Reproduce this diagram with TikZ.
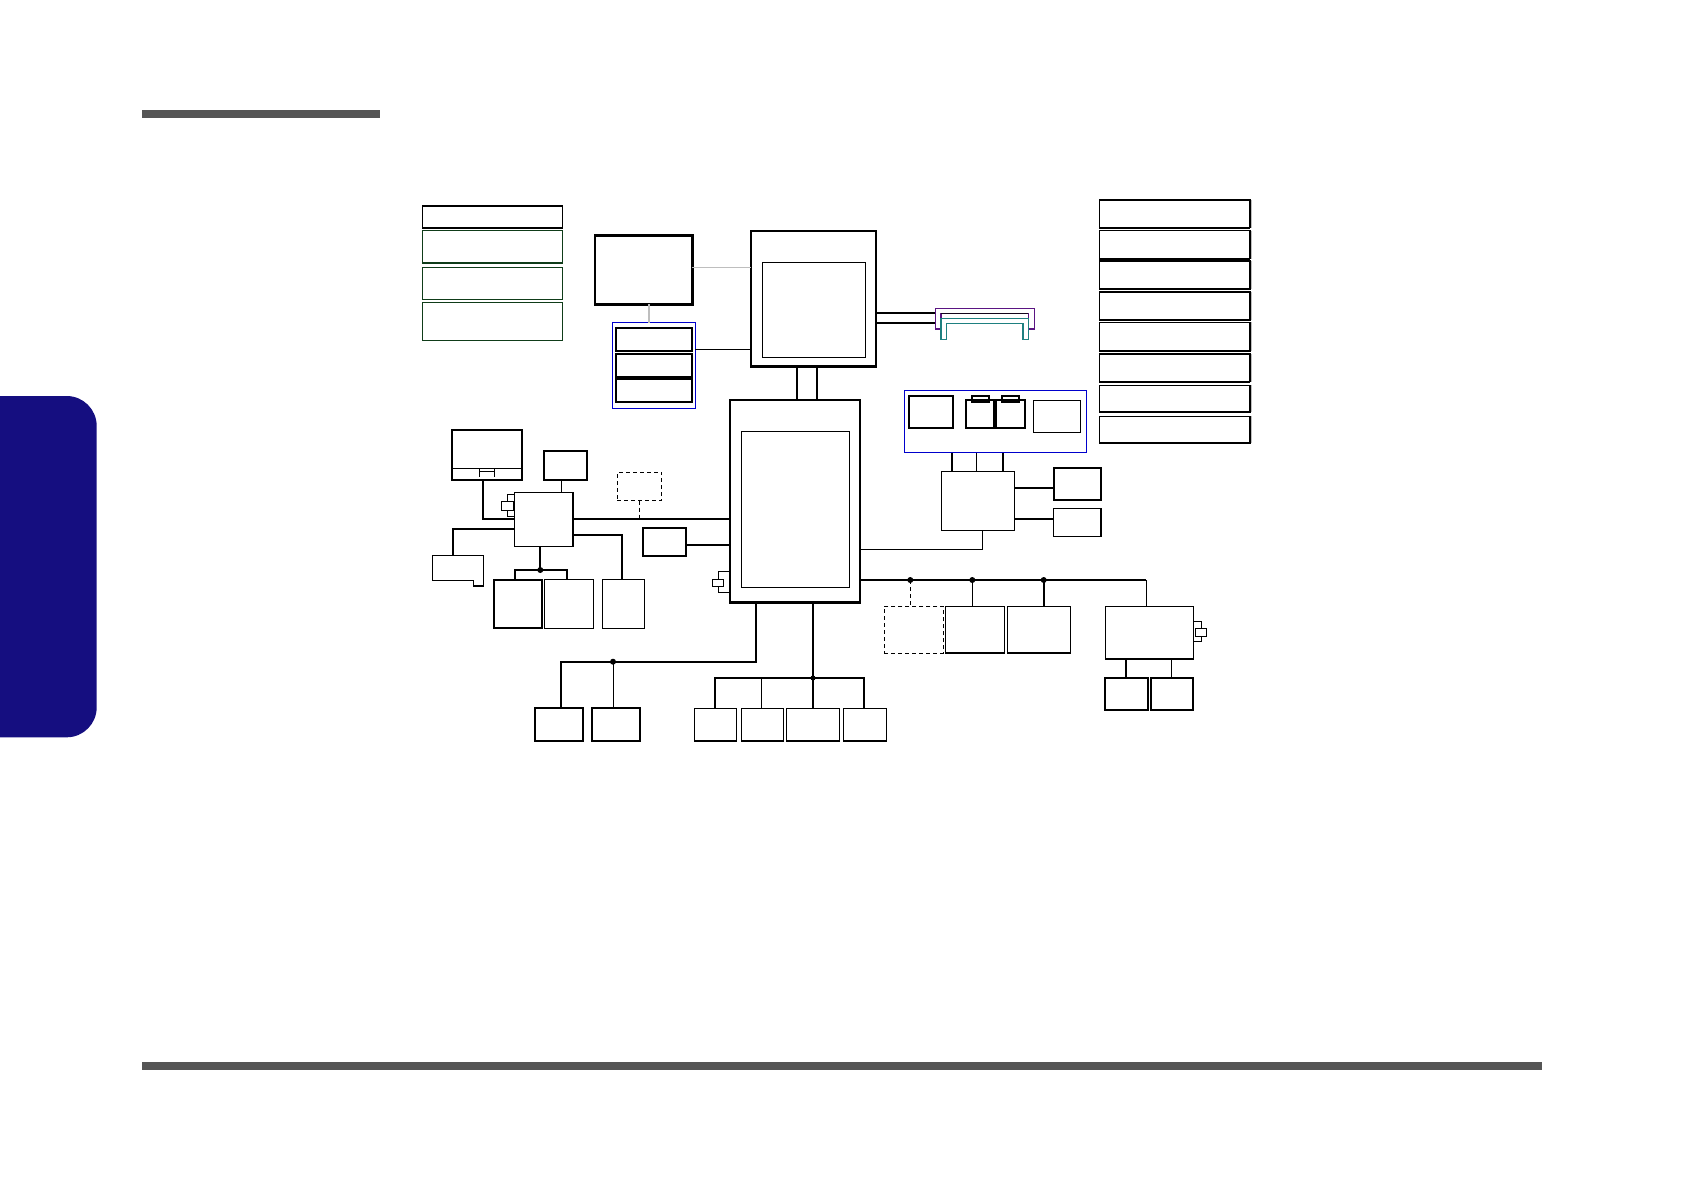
\documentclass[tikz,border=0pt]{standalone}
\usepackage{tikz}
\definecolor{tabblue}{RGB}{21,14,128}
\definecolor{bargray}{RGB}{85,85,85}
\definecolor{frameblue}{RGB}{0,0,204}
\definecolor{legendgreen}{RGB}{15,60,25}
\definecolor{brpurple}{RGB}{90,20,130}
\definecolor{brteal}{RGB}{30,128,128}
\definecolor{lgray}{RGB}{190,190,190}
\newcommand\mkbox[6][]{\node[draw, inner sep=0pt, outer sep=0pt, anchor=north west,
  minimum width={(#5-#3)*1pt}, minimum height={(#6-#4)*1pt}, #1] (#2) at (#3,#4) {};}
\tikzset{
  thin1/.style={line width=1pt},
  med/.style={line width=1.5pt},
  thk/.style={line width=2pt},
  heavy/.style={line width=2.7pt},
  blueframe/.style={draw=frameblue, line width=1.5pt},
  legbox/.style={draw=legendgreen, line width=1.2pt},
  dashbox/.style={dashed, line width=1pt, dash pattern=on 4pt off 3pt},
}
\begin{document}
\begin{tikzpicture}[x=1pt,y=-1pt]
\useasboundingbox (0,0) rectangle (1684,1192);
% page decorations
\fill[bargray] (142,110) rectangle (380,117.7);
\fill[bargray] (142,1062) rectangle (1542,1070);
\fill[tabblue, rounded corners=30pt] (-40,396) rectangle (96.7,737.3);

% left legend boxes
\mkbox[line width=1.2pt]{lb1}{422.3}{206}{562.7}{227.7}
\mkbox[legbox]{lb2}{422.3}{230.7}{562.7}{263}
\mkbox[legbox]{lb3}{422.3}{267.3}{562.7}{299.3}
\mkbox[legbox]{lb4}{422.3}{302.7}{562.7}{340.7}
\draw[line width=2pt] (lb1.south west) -- (lb1.south east);
\draw[legendgreen,line width=2pt] (lb2.south west) -- (lb2.south east);

% right legend boxes
\foreach \n/\a/\b in {1/200/227.7, 2/230.7/258.7, 3/261/289.3, 4/292/320,
                      5/322.3/351, 6/354/381.7, 7/385.3/412, 8/416.3/443.3}{
  \mkbox[line width=1.2pt]{rb\n}{1099.3}{\a}{1250}{\b}
  \draw[line width=2.2pt] (rb\n.south west) -- (rb\n.south east);
  \draw[lgray, line width=1pt] ([xshift=1.5pt]rb\n.north east) -- ([xshift=1.5pt]rb\n.south east);
}

% memory, CPU, blue slot group
\mkbox[heavy]{mem}{595}{235.7}{692.3}{304.3}
\mkbox[blueframe]{slotgrp}{612.3}{322.7}{695.3}{408.3}
\mkbox[thk]{slot1}{616}{328.3}{692}{351.3}
\mkbox[thk]{slot2}{616}{354}{692}{376.7}
\mkbox[thk]{slot3}{616}{379.3}{692}{402}
\mkbox[heavy]{cpu}{751}{231}{876}{366.7}
\mkbox[thin1]{cpuin}{762.3}{262.3}{865.7}{357.3}
\draw[lgray, line width=1.3pt] (mem.east |- 0,267.3) -- (cpu.west |- 0,267.3);
\draw[lgray, line width=2pt] (mem.south -| 649,0) -- (slotgrp.north -| 649,0);
\draw[thin1] (slotgrp.east |- 0,349.3) -- (cpu.west |- 0,349.3);

% brackets (display connector)
\coordinate (brk) at (935.7,308.7);
\draw[thk] (cpu.east |- 0,312.7) -- (brk |- 0,312.7);
\draw[thk] (cpu.east |- 0,322.7) -- (brk |- 0,322.7);
\draw[brpurple, line width=1.3pt] (935.7,308.7) -- (1034.3,308.7) -- (1034.3,329) -- (1028.3,329)
  -- (1028.3,313.3) -- (941,313.3) -- (941,329) -- (935.7,329) -- cycle;
\draw[line width=1.5pt, black!80!brpurple] (941,313.3) -- (1028.3,313.3);
\draw[brteal, line width=1.3pt] (941,318.3) -- (1028.3,318.3) -- (1028.3,339.3) -- (1023,339.3)
  -- (1023,323.3) -- (946.3,323.3) -- (946.3,339.3) -- (941,339.3) -- cycle;

% PCH
\mkbox[heavy]{pch}{730}{400}{860}{602.3}
\mkbox[thin1]{pchin}{741.3}{431.3}{849.3}{587.3}
\draw[thk] (cpu.south -| 797.3,0) -- (pch.north -| 797.3,0);
\draw[thk] (cpu.south -| 817.3,0) -- (pch.north -| 817.3,0);

% right upper group
\mkbox[blueframe]{cardgrp}{904.7}{390.7}{1086.7}{452.7}
\mkbox[thk]{cr1}{909.3}{395.7}{953.3}{428.3}
\mkbox[thk]{cr2}{966.3}{400.3}{994}{428.3}
\mkbox[thk]{cr2t}{972.3}{395.7}{988.7}{402.3}
\mkbox[thk]{cr3}{996.3}{400.3}{1025.3}{428.3}
\mkbox[thk]{cr3t}{1002.3}{395.7}{1019.3}{402.3}
\mkbox[med]{cr4}{1033.7}{400.3}{1080.7}{432.3}
\mkbox[thin1]{hub}{941.3}{471.7}{1014.3}{530.3}
\draw[thk] (cardgrp.south -| 952,0) -- (hub.north -| 952,0);
\draw[thin1] (cardgrp.south -| 976.3,0) -- (hub.north -| 976.3,0);
\draw[thk] (cardgrp.south -| 1003,0) -- (hub.north -| 1003,0);
\mkbox[thk]{hi}{1053.7}{467.7}{1101}{500.3}
\mkbox[med]{hj}{1053.7}{508.7}{1101}{536.7}
\draw[thk] (hub.east |- 0,487.7) -- (hi.west |- 0,487.7);
\draw[thk] (hub.east |- 0,519) -- (hj.west |- 0,519);
\draw[thin1] (hub.south -| 982.7,0) -- (982.7,549.3) -- (pch.east |- 0,549.3);

% right bus
\mkbox[dashbox]{dq}{884.3}{606.3}{943.3}{653.3}
\mkbox[med]{bl}{945.7}{606.3}{1004.3}{653}
\mkbox[med]{bm}{1007.3}{606.3}{1070.3}{653}
\mkbox[med]{bk}{1105.3}{606.3}{1193.3}{659}
\coordinate (j1) at (910.3,580);
\coordinate (j2) at (972.3,580);
\coordinate (j3) at (1043.7,580);
\draw[thk] (pch.east |- 0,580) -- (1146.3,580);
\draw[thin1] (1146.3,580) -- (bk.north -| 1146.3,0);
\draw[dashbox] (j1) -- (dq.north -| j1);
\draw[thin1] (j2) -- (bl.north -| j2);
\draw[thk] (j3) -- (bm.north -| j3);
\foreach \j in {j1,j2,j3} \fill (\j) circle (3pt);
\mkbox[thin1]{xtk}{1195.3}{628.3}{1206.3}{636.7}
\draw[thin1] (bk.east |- 0,621.7) -- (1201.3,621.7) -- (xtk.north -| 1201.3,0);
\draw[thin1] (xtk.south -| 1201.3,0) -- (1201.3,641) -- (bk.east |- 0,641);
\mkbox[thk]{bn1}{1105.3}{677.7}{1148}{710}
\mkbox[thk]{bn2}{1150.7}{677.7}{1193.3}{710}
\draw[thk] (bk.south -| 1126,0) -- (bn1.north -| 1126,0);
\draw[thin1] (bk.south -| 1171.7,0) -- (bn2.north -| 1171.7,0);

% left side
\mkbox[thk]{la}{452.3}{430.3}{521.7}{479.7}
\draw[thin1] (452.3,468.3) -- (521.7,468.3);
\draw[thin1] (479.3,468.3) -- (479.3,477.3) (494,468.3) -- (494,477.3) (479.3,471.7) -- (494,471.7);
\mkbox[thk]{lbx}{544.3}{451.3}{587.3}{479.7}
\mkbox[thin1]{lc}{514.3}{492.3}{573.3}{546.3}
\draw[thk] (lc.north east) -- (lc.south east);
\draw[thk] (la.south -| 483.3,0) -- (483.3,519) -- (lc.west |- 0,519);
\draw[thin1] (lbx.south -| 561.7,0) -- (lc.north -| 561.7,0);
\mkbox[thin1]{xtc}{501.3}{501}{513.3}{510}
\draw[thin1] (lc.west |- 0,494) -- (507.3,494) -- (xtc.north -| 507.3,0);
\draw[thin1] (xtc.south -| 507.3,0) -- (507.3,516.3) -- (lc.west |- 0,516.3);
\mkbox[dashbox]{dr}{617.3}{472.3}{661.7}{500.7}
\coordinate (jr) at (639.3,519);
\draw[line width=2.5pt] (lc.east |- 0,519) -- (pch.west |- 0,519);
\draw[dashbox] (dr.south -| jr) -- (jr);
\coordinate (ldtop) at (452.7,555.3);
\draw[line width=1pt] (432.3,555.3) -- (483.3,555.3) -- (483.3,586) -- (473.3,586) -- (473.3,580) -- (432.3,580) -- cycle;
\draw[line width=2pt] (483.3,586) -- (473.3,586);
\draw[thk] (lc.west |- 0,528.7) -- (452.7,528.7) -- (ldtop);
\mkbox[thk]{le1}{493.7}{579.7}{542.3}{628.3}
\mkbox[med]{le2}{544.3}{579.7}{593.3}{628.3}
\mkbox[med]{lf}{602.3}{579.7}{644.3}{628.3}
\coordinate (jc) at (540.3,570);
\draw[thk] (lc.south -| jc) -- (jc);
\draw[thk] (le1.north -| 514.7,0) -- (514.7,570) -- (567,570) -- (le2.north -| 567,0);
\fill (jc) circle (3pt);
\draw[thk] (lc.east |- 0,535) -- (622.3,535) -- (lf.north -| 622.3,0);
\mkbox[thk]{lg}{642.7}{528.3}{685.7}{556.3}
\draw[thk] (lg.east |- 0,545) -- (pch.west |- 0,545);
\mkbox[thin1]{xtp}{712.3}{579.7}{723.7}{586.3}
\draw[thin1] (pch.west |- 0,571.7) -- (718,571.7) -- (xtp.north -| 718,0);
\draw[thin1] (xtp.south -| 718,0) -- (718,592.7) -- (pch.west |- 0,592.7);

% bottom
\mkbox[thk]{bo1}{534.7}{708.3}{583.3}{741}
\mkbox[thk]{bo2}{591.7}{708.3}{640.3}{741}
\coordinate (jo) at (613,661.7);
\draw[thk] (pch.south -| 756,0) -- (756,661.7) -- (561.3,661.7) -- (bo1.north -| 561.3,0);
\draw[thin1] (jo) -- (bo2.north -| jo);
\fill (jo) circle (3pt);
\mkbox[med]{bp1}{694.3}{708.3}{736.7}{741}
\mkbox[med]{bp2}{741.3}{708.3}{783.3}{741}
\mkbox[med]{bp3}{786.3}{708.3}{839.3}{741}
\mkbox[med]{bp4}{843.3}{708.3}{886.3}{741}
\coordinate (jp) at (813,678);
\draw[thk] (pch.south -| jp) -- (bp3.north -| jp);
\draw[thk] (bp1.north -| 714.7,0) -- (714.7,678) -- (864,678) -- (bp4.north -| 864,0);
\draw[thin1] (761.7,678) -- (bp2.north -| 761.7,0);
\fill (jp) circle (2.5pt);
\end{tikzpicture}
\end{document}
